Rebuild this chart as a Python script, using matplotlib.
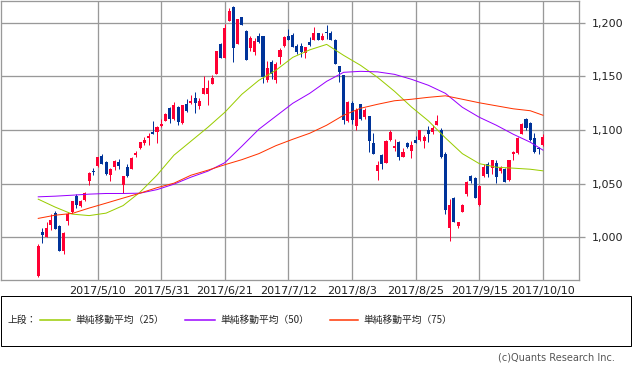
import matplotlib
matplotlib.use('Agg')
import matplotlib.pyplot as plt
import numpy as np
import pandas as pd
from matplotlib.patches import Rectangle
from matplotlib.lines import Line2D
from matplotlib.ticker import FuncFormatter

# ---------------- data ----------------
jp_holidays = ['2017-05-03', '2017-05-04', '2017-05-05', '2017-07-17',
               '2017-08-11', '2017-09-18', '2017-10-09']
dates = pd.bdate_range('2017-04-17', '2017-10-10', freq='C', holidays=jp_holidays)
date_labels = [f"{d.year}/{d.month}/{d.day}" for d in dates]

tick_labels = ['2017/5/10', '2017/5/31', '2017/6/21', '2017/7/12',
               '2017/8/3', '2017/8/25', '2017/9/15', '2017/10/10']

opens = [964, 1005, 1000.5, 1012, 1023, 1010.5, 987.5, 1015.5, 1024, 1039,
         1029.5, 1034.5, 1053, 1062, 1066.5, 1076, 1070, 1058, 1065.5, 1070,
         1048.5, 1065.5, 1064, 1077, 1083, 1087.5, 1092.5, 1098, 1098, 1103.5,
         1108.5, 1120.5, 1110, 1121.5, 1106.5, 1124.5, 1125, 1130, 1122, 1134,
         1133.5, 1142.5, 1152, 1180.5, 1167, 1201.5, 1214.5, 1180, 1205, 1192,
         1176, 1172.5, 1187.5, 1187.5, 1147, 1163.5, 1147, 1168, 1178, 1187.5,
         1189, 1178, 1178, 1171.5, 1182, 1184, 1190, 1183.5, 1190.5, 1190.5,
         1184, 1159.5, 1151, 1108.5, 1125.5, 1104, 1124, 1112, 1113, 1088,
         1062, 1076.5, 1069.5, 1090.5, 1083, 1089, 1074.5, 1088, 1080.5, 1090.5,
         1090.5, 1090, 1100.5, 1098, 1104.5, 1100.5, 1078, 1008.5, 1037, 1010.5,
         1024, 1040.5, 1057, 1055, 1030, 1057.5, 1068, 1065, 1069.5, 1062,
         1063.5, 1053.5, 1078, 1078.5, 1096.5, 1110, 1106.5, 1093, 1083.5, 1086]
highs = [994, 1009, 1014, 1022, 1024.5, 1011.5, 1005, 1024, 1034, 1040,
         1035, 1042.5, 1061, 1065, 1075, 1078, 1071, 1065, 1072, 1073,
         1057, 1068, 1075, 1080.5, 1089, 1093.5, 1097, 1108, 1103.5, 1110,
         1116, 1121.5, 1126, 1122, 1123.5, 1128.5, 1132.5, 1135.5, 1130, 1150.5,
         1147, 1151, 1173.5, 1181.5, 1198.5, 1214, 1215.5, 1203.5, 1205, 1193,
         1188, 1185.5, 1190.5, 1187.5, 1164.5, 1165, 1163.5, 1176, 1187.5, 1194.5,
         1190.5, 1180.5, 1181, 1177.5, 1186.5, 1196, 1190.5, 1190, 1197.5, 1192,
         1185, 1160, 1151, 1127.5, 1127, 1121, 1124.5, 1121, 1113, 1097.5,
         1071.5, 1078, 1090.5, 1100, 1092, 1090, 1083.5, 1089, 1090, 1094,
         1100.5, 1095, 1103.5, 1104.5, 1114, 1101.5, 1079.5, 1036, 1038, 1014.5,
         1031.5, 1052.5, 1058, 1056.5, 1048.5, 1068, 1070.5, 1072.5, 1072.5, 1066.5,
         1065, 1072.5, 1080.5, 1093.5, 1106.5, 1111.5, 1107.5, 1097, 1084.5, 1096]
lows = [963, 995, 1000, 1007, 1008, 987, 984.5, 1012, 1023, 1027.5,
        1028.5, 1034, 1049, 1058, 1065.5, 1068, 1058.5, 1053, 1063, 1064,
        1041, 1056.5, 1064, 1075, 1082, 1086.5, 1086.5, 1096, 1087.5, 1103,
        1108, 1106.5, 1109, 1104.5, 1106, 1116.5, 1124.5, 1116, 1120, 1134,
        1123, 1142.5, 1152, 1167, 1167, 1201.5, 1163, 1180, 1198, 1165.5,
        1174, 1169.5, 1181.5, 1144, 1144.5, 1148, 1144, 1162, 1177.5, 1183.5,
        1177, 1170.5, 1168.5, 1167.5, 1178, 1184, 1183.5, 1183.5, 1185, 1183.5,
        1162, 1144.5, 1106, 1107.5, 1106, 1100.5, 1109, 1110.5, 1079.5, 1077.5,
        1053.5, 1064, 1069.5, 1090, 1080.5, 1072.5, 1074.5, 1083.5, 1074, 1087.5,
        1090, 1083.5, 1089, 1096.5, 1104.5, 1073.5, 1021.5, 997, 1014, 1008.5,
        1023.5, 1038.5, 1051, 1037, 1029.5, 1056.5, 1056.5, 1059.5, 1051, 1060,
        1051.5, 1052.5, 1072, 1078, 1096, 1100.5, 1090, 1079, 1078, 1085]
closes = [992, 1002, 1009, 1016, 1008, 987.5, 1004, 1021.5, 1033.5, 1030,
          1034, 1041, 1060, 1061, 1075, 1068, 1059, 1064, 1071, 1066.5,
          1057, 1057, 1074, 1079, 1088.5, 1090.5, 1094.5, 1096.5, 1103, 1105.5,
          1114.5, 1110.5, 1123, 1107.5, 1123, 1117.5, 1127.5, 1125, 1127.5, 1139,
          1139.5, 1148.5, 1173.5, 1167, 1195, 1211, 1176, 1203.5, 1198, 1165.5,
          1185.5, 1183, 1182, 1149.5, 1158, 1152, 1162, 1175, 1186.5, 1184,
          1177.5, 1172.5, 1172.5, 1177.5, 1179, 1190, 1184, 1187.5, 1190, 1184,
          1162, 1154, 1109, 1126, 1109, 1119, 1110, 1118.5, 1090, 1077.5,
          1067.5, 1068, 1090, 1098, 1085, 1074.5, 1079.5, 1084.5, 1086, 1088,
          1100, 1093.5, 1096, 1101.5, 1108, 1075, 1025.5, 1030, 1014.5, 1014.5,
          1030, 1051.5, 1052.5, 1037, 1047.5, 1065.5, 1059.5, 1072, 1056.5, 1065,
          1051.5, 1072, 1079.5, 1092.5, 1106, 1101.5, 1091, 1080, 1082, 1093.5]

ma_idx = [0, 4, 8, 12, 16, 20, 24, 28, 32, 36, 40, 44, 48, 52, 56, 60,
          64, 68, 72, 76, 80, 84, 88, 92, 96, 100, 104, 108, 112, 116, 119]
ma25 = [1035.6, 1028.2, 1021.7, 1020.3, 1022.6, 1029.6, 1042.1, 1058.0, 1076.6, 1089.6,
        1102.6, 1116.6, 1133.3, 1146.3, 1155.6, 1167.7, 1174.7, 1179.8, 1169.6, 1160.3,
        1149.1, 1136.1, 1121.5, 1108.5, 1092.7, 1078.0, 1068.7, 1065.4, 1064.5, 1063.5, 1062.0]
ma50 = [1037.8, 1038.4, 1039.3, 1040.3, 1040.9, 1040.9, 1041.2, 1044.5, 1049.6, 1056.1,
        1061.7, 1069.6, 1084.9, 1100.7, 1112.8, 1124.9, 1134.2, 1145.4, 1153.8, 1154.7,
        1154.2, 1151.9, 1147.3, 1141.7, 1134.2, 1121.2, 1111.9, 1104.5, 1096.1, 1088.7, 1081.3]
ma75 = [1017.7, 1020.7, 1022.3, 1027.3, 1031.9, 1036.6, 1041.2, 1046.3, 1050.5, 1057.9,
        1062.6, 1067.7, 1072.4, 1078.0, 1085.4, 1091.4, 1097.0, 1104.5, 1113.8, 1120.3,
        1124.0, 1127.3, 1128.7, 1130.5, 1131.9, 1128.7, 1125.4, 1122.6, 1119.8, 1118.0, 1113.8]

y_ticks = [1000, 1050, 1100, 1150, 1200]
legend_prefix = '上段：'
legend_labels = ['単純移動平均（25）', '単純移動平均（50）', '単純移動平均（75）']
copyright_text = '(c)Quants Research Inc.'

# ---------------- styles ----------------
W, H = 633, 370
UP = '#ff0033'
DOWN = '#003399'
MA_COLORS = ['#99cc00', '#9900ff', '#ff3300']
GRID = '#999999'
PX = 72.0 / 100.0

plt.rcParams['font.family'] = ['DejaVu Sans']

fig = plt.figure(figsize=(W / 100, H / 100), dpi=100)
ax = fig.add_axes([1 / W, 1 - 280 / H, 578 / W, 279.5 / H])

x = np.arange(len(dates))
o = np.array(opens)
c = np.array(closes)
hi = np.array(highs)
lo = np.array(lows)
up = c >= o
cols = np.where(up, UP, DOWN)

ax.vlines(x, lo, hi, colors=cols, linewidth=1 * PX, zorder=3)
body_bottom = np.minimum(o, c)
body_h = np.maximum(np.abs(c - o), 0.9)
ax.bar(x, body_h, bottom=body_bottom, width=0.72, color=cols, linewidth=0, zorder=3)

for vals, col in zip([ma25, ma50, ma75], MA_COLORS):
    ax.plot(ma_idx, vals, color=col, linewidth=1 * PX, zorder=4)

tick_pos = [date_labels.index(t) for t in tick_labels]
ax.set_xticks(tick_pos)
ax.set_xticklabels(tick_labels)
ax.set_yticks(y_ticks)
ax.yaxis.set_major_formatter(FuncFormatter(lambda v, _: f"{int(v):,}"))
ax.yaxis.tick_right()

ax.set_xlim(-8.78, 127.5)
ax.set_ylim(960.3, 1220.7)

ax.grid(True, color=GRID, linewidth=1.3 * PX)
ax.set_axisbelow(True)
for s in ax.spines.values():
    s.set_color(GRID)
    s.set_linewidth(1.3 * PX)

ax.tick_params(axis='x', length=0, pad=4.5, labelsize=8, labelcolor='#222222')
ax.tick_params(axis='y', which='major', right=True, left=False, length=4, width=1.3 * PX,
               color=GRID, pad=5, labelsize=8, labelcolor='#222222')

# ---------------- legend box ----------------
def fx(px):
    return px / W

def fy(py):
    return 1 - py / H

fig.add_artist(Rectangle((fx(1), fy(346)), fx(630) - fx(0), fy(296) - fy(346),
                         transform=fig.transFigure, fill=False, edgecolor='black',
                         linewidth=1 * PX))
cjk = ['Noto Sans CJK JP', 'DejaVu Sans']
ly = fy(320)
fig.text(fx(7), ly, legend_prefix, fontsize=7, family=cjk, va='center', ha='left', color='#222222')
line_x = [(40, 70), (185, 215), (330, 358)]
text_x = [75, 220, 363]
for (x0, x1), tx, col, lab in zip(line_x, text_x, MA_COLORS, legend_labels):
    fig.add_artist(Line2D([fx(x0), fx(x1)], [ly, ly], transform=fig.transFigure,
                          color=col, linewidth=1.5 * PX))
    fig.text(fx(tx), ly, lab, fontsize=7, family=cjk, va='center', ha='left', color='#222222')

fig.text(fx(615), fy(357), copyright_text, fontsize=7, ha='right', va='center', color='#555555')

fig.savefig('out.png', dpi=100)
